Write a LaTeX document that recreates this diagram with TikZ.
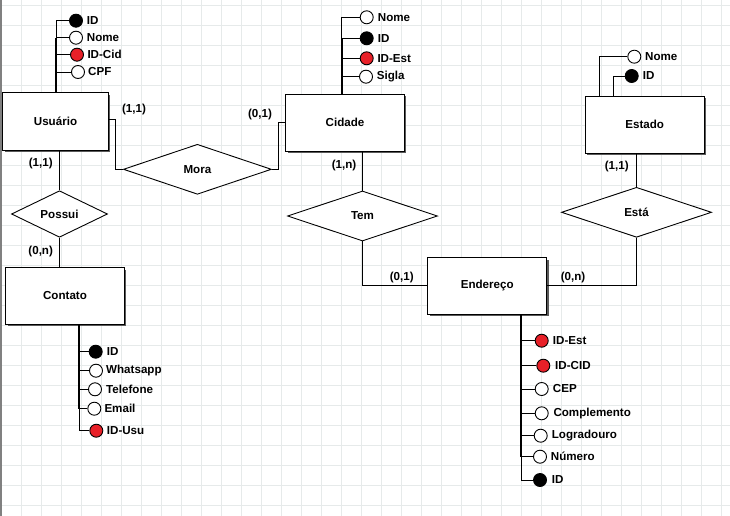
\documentclass[tikz,border=0pt]{standalone}
\usepackage{fontspec}
\setmainfont{Liberation Sans}
\usetikzlibrary{shapes.geometric,shadows}
\definecolor{gridc}{RGB}{230,234,234}
\definecolor{fkred}{RGB}{232,32,40}
\begin{document}
\begin{tikzpicture}[x=1pt,y=-1pt,
  every node/.style={font=\bfseries\fontsize{11.6}{13}\selectfont},
  entity/.style={draw, fill=white, line width=1pt, minimum width=118.6pt, minimum height=56.6pt, inner sep=0,
    general shadow={fill=black!65, shadow xshift=2pt, shadow yshift=-2pt}},
  rel/.style={draw, diamond, fill=white, line width=0.9pt, inner sep=0, minimum width=150pt, minimum height=50pt},
  attr/.style={circle, draw, fill=white, line width=0.9pt, minimum size=13pt, inner sep=0},
  keyat/.style={attr, fill=black},
  fkat/.style={attr, fill=fkred},
  atxt/.style={inner sep=0, anchor=west},
  card/.style={inner sep=0},
  conn/.style={line width=0.9pt},
  trunk/.style={line width=2.6pt},
  gridline/.style={gridc, line width=0.8pt}]
\fill[white] (0,0) rectangle (730,516);
\useasboundingbox (0,0) rectangle (730,516);
\foreach \x in {0,...,35} \draw[gridline] ({21.7+20*\x},0) -- ({21.7+20*\x},516);
\foreach \y in {0,...,25} \draw[gridline] (0,{5+20*\y}) -- (730,{5+20*\y});
\fill[black!50] (0,0) rectangle (1.8,516);

% entities
\node[entity, minimum width=105.6pt, minimum height=57pt] (usu) at (55.5,121.5) {Usuário};
\node[entity] (cid) at (345,122.7) {Cidade};
\node[entity] (est) at (644.7,124.7) {Estado};
\node[entity] (cont) at (65,296) {Contato};
\node[entity] (ende) at (487.2,285.9) {Endereço};

% relationships
\node[rel, minimum width=148pt] (mora) at (197.4,169.3) {Mora};
\node[rel, minimum width=96pt, minimum height=42pt] (possui) at (59.5,214) {Possui};
\node[rel] (tem) at (362.5,216) {Tem};
\node[rel] (esta) at (636.5,212.3) {Está};

% connectors
\draw[conn] ([yshift=2.5pt]usu.east) -- ++(7,0) |- (mora.west);
\draw[conn] (mora.east) -- ++(6.6,0) |- (cid.west);
\draw[conn] (possui.north |- usu.south) -- (possui.north);
\draw[conn] (possui.south) -- (possui.south |- cont.north);
\draw[conn] (tem.north |- cid.south) -- (tem.north);
\draw[conn] (tem.south) |- (ende.west);
\draw[conn] (ende.east) -| (esta.south);
\draw[conn] (esta.north) -- (esta.north |- est.south);

% cardinalities
\node[card] (c1) at (134,110) {(1,1)};
\node[card] (c2) at (260,114.3) {(0,1)};
\node[card] (c3) at (40.7,164) {(1,1)};
\node[card] (c4) at (40.7,251) {(0,n)};
\node[card] (c5) at (344,165) {(1,n)};
\node[card] (c6) at (401.7,277.3) {(0,1)};
\node[card] (c7) at (573,277.3) {(0,n)};
\node[card] (c8) at (616.7,166.7) {(1,1)};

% Usuario attributes
\coordinate (ut) at (56,0);
\node[keyat] (u1) at (76,20.7) {};
\node[attr] (u2) at (76,37.7) {};
\node[fkat] (u3) at (77,54.7) {};
\node[attr] (u4) at (78,72) {};
\foreach \a in {u1,u2,u3,u4} \draw[conn] (\a.west) -| (ut |- usu.north);
\draw[line width=1.5pt] (ut |- u2) -- (ut |- u3);
\draw[trunk] (ut |- u3) -- (ut |- usu.north);
\node[atxt] (u1t) at (86.7,20.7) {ID};
\node[atxt] (u2t) at (86.7,37.7) {Nome};
\node[atxt] (u3t) at (87.3,54.7) {ID-Cid};
\node[atxt] (u4t) at (88,72) {CPF};

% Cidade attributes
\coordinate (ct) at (341.8,0);
\node[attr] (k1) at (366.7,17.3) {};
\node[keyat] (k2) at (366.7,38.3) {};
\node[fkat] (k3) at (366.7,58.3) {};
\node[attr] (k4) at (366,76.7) {};
\foreach \a in {k1,k2,k3,k4} \draw[conn] (\a.west) -| (ct |- cid.north);
\draw[line width=1.5pt] (ct |- k2) -- (ct |- k3);
\draw[trunk] (ct |- k3) -- (ct |- cid.north);
\node[atxt] (k1t) at (377.7,17.3) {Nome};
\node[atxt] (k2t) at (377.7,38.3) {ID};
\node[atxt] (k3t) at (377.3,58.3) {ID-Est};
\node[atxt] (k4t) at (376.7,76.7) {Sigla};

% Estado attributes
\node[attr] (e1) at (634.3,56.7) {};
\node[keyat] (e2) at (631.7,76) {};
\draw[conn] (e1.west) -| ([xshift=-45.4pt]est.north);
\draw[conn] (e2.west) -| ([xshift=-31.4pt]est.north);
\node[atxt] (e1t) at (645,56.7) {Nome};
\node[atxt] (e2t) at (642.7,76) {ID};

% Contato attributes
\coordinate (tt) at (79,0);
\node[keyat] (t1) at (95.7,351.7) {};
\node[attr] (t2) at (96,370.7) {};
\node[attr] (t3) at (95,389.3) {};
\node[attr] (t4) at (94.3,408.7) {};
\node[fkat] (t5) at (96.3,430.7) {};
\foreach \a in {t1,t2,t3,t4,t5} \draw[conn] (\a.west) -| (tt |- cont.south);
\draw[trunk] (tt |- cont.south) -- (tt |- t4);
\node[atxt] (t1t) at (106.7,351.7) {ID};
\node[atxt] (t2t) at (106,370.7) {Whatsapp};
\node[atxt] (t3t) at (106,389.3) {Telefone};
\node[atxt] (t4t) at (104.3,408.7) {Email};
\node[atxt] (t5t) at (106.7,430.7) {ID-Usu};

% Endereco attributes
\coordinate (nt) at (521,0);
\node[fkat] (n1) at (541.7,340.7) {};
\node[fkat] (n2) at (543.3,365.7) {};
\node[attr] (n3) at (541.7,389) {};
\node[attr] (n4) at (541.7,413.3) {};
\node[attr] (n5) at (540.7,435.7) {};
\node[attr] (n6) at (540,456.7) {};
\node[keyat] (n7) at (540,480) {};
\foreach \a in {n1,n2,n3,n4,n5,n6,n7} \draw[conn] (\a.west) -| (nt |- ende.south);
\draw[trunk] (nt |- ende.south) -- (nt |- n6);
\node[atxt] (n1t) at (552.7,340.7) {ID-Est};
\node[atxt] (n2t) at (555,365.7) {ID-CID};
\node[atxt] (n3t) at (552.7,389) {CEP};
\node[atxt] (n4t) at (553.3,413.3) {Complemento};
\node[atxt] (n5t) at (551.7,435.7) {Logradouro};
\node[atxt] (n6t) at (550.7,456.7) {Número};
\node[atxt] (n7t) at (551.7,480) {ID};
\end{tikzpicture}
\end{document}
